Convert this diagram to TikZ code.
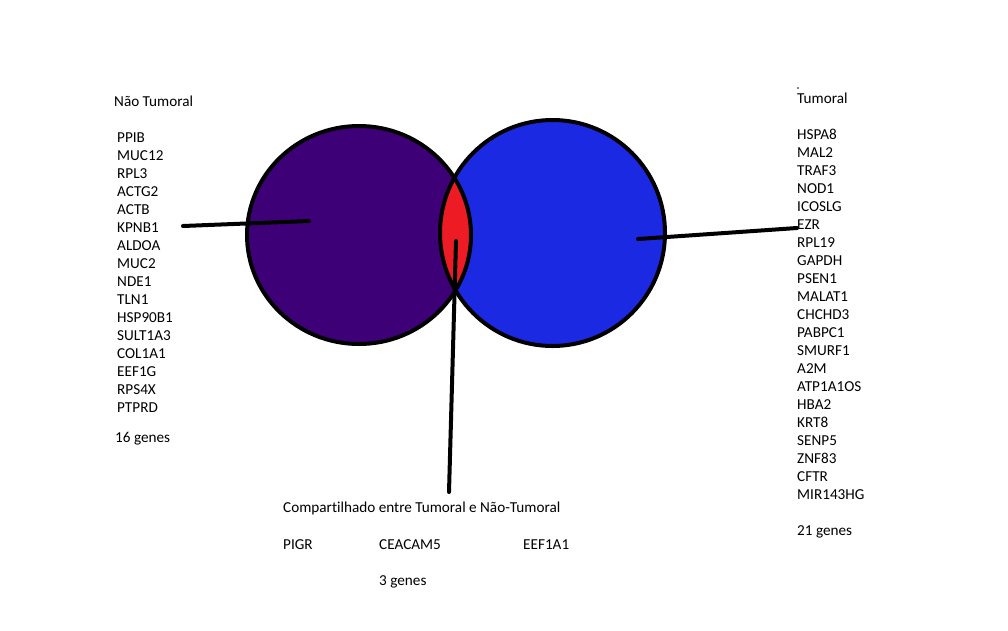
\documentclass[tikz,border=0pt]{standalone}
\usepackage{fontspec}
\setmainfont{Carlito}[Ligatures={NoCommon}]
\usepackage{xcolor}
\usepackage{tikz}
\usetikzlibrary{matrix}
\definecolor{roxo}{RGB}{62,0,118}
\definecolor{azul}{RGB}{28,41,226}
\definecolor{vermelho}{RGB}{237,28,36}
\tikzset{
genelist/.style={matrix of nodes,
inner sep=0pt,
anchor=north west,
nodes={inner sep=0pt,anchor=west,minimum height=18pt}},
rotulo/.style={inner sep=0pt,anchor=base west},
traco/.style={line width=4pt,line cap=round}
}
\begin{document}
\begin{tikzpicture}[x=1pt,y=-1pt,font=\fontsize{15.2}{18}\selectfont]
\useasboundingbox (0,0) rectangle (1008,630);
\fill[roxo] (359,235) ellipse [x radius=112pt,y radius=109pt];
\fill[azul] (552.5,233) ellipse [x radius=112.5pt,y radius=113pt];
\begin{scope}
\clip (359,235) ellipse [x radius=112pt,y radius=109pt];
\fill[vermelho] (552.5,233) ellipse [x radius=112.5pt,y radius=113pt];
\end{scope}
\draw[line width=4pt] (359,235) ellipse [x radius=112pt,y radius=109pt];
\draw[line width=4pt] (552.5,233) ellipse [x radius=112.5pt,y radius=113pt];

\node[rotulo] (naotum) at (114,106) {Não Tumoral};
\matrix[genelist] (lista) at (117,128) {
PPIB \\ MUC12 \\ RPL3 \\ ACTG2 \\ ACTB \\ KPNB1 \\ ALDOA \\ MUC2 \\
NDE1 \\ TLN1 \\ HSP90B1 \\ SULT1A3 \\ COL1A1 \\ EEF1G \\ RPS4X \\ PTPRD \\
};
\node[rotulo] (nlista) at (115,442) {16 genes};

\fill (798,88) circle (0.8pt);
\node[rotulo] (tum) at (797,103) {Tumoral};
\matrix[genelist] (listb) at (797,125) {
HSPA8 \\ MAL2 \\ TRAF3 \\ NOD1 \\ ICOSLG \\ EZR \\ RPL19 \\ GAPDH \\
PSEN1 \\ MALAT1 \\ CHCHD3 \\ PABPC1 \\ SMURF1 \\ A2M \\ ATP1A1OS \\ HBA2 \\
KRT8 \\ SENP5 \\ ZNF83 \\ CFTR \\ MIR143HG \\
};
\node[rotulo] (nlistb) at (797,535) {21 genes};

\node[rotulo] (comp) at (283,512) {Compartilhado entre Tumoral e Não-Tumoral};
\node[rotulo] (pigr) at (283,549) {PIGR};
\node[rotulo] (ceacam) at (379,549) {CEACAM5};
\node[rotulo] (eef) at (523,549) {EEF1A1};
\node[rotulo] (ncomp) at (379,585) {3 genes};

\coordinate (lfim) at (183,226);
\coordinate (lcent) at (309,221);
\coordinate (rcent) at (638,239);
\coordinate (rfim) at (797,228);
\coordinate (mcent) at (456,241);
\coordinate (mfim) at (449,492);
\draw[traco] (lfim) -- (lcent);
\draw[traco] (rcent) -- (rfim);
\draw[traco] (mcent) -- (mfim);
\end{tikzpicture}
\end{document}
